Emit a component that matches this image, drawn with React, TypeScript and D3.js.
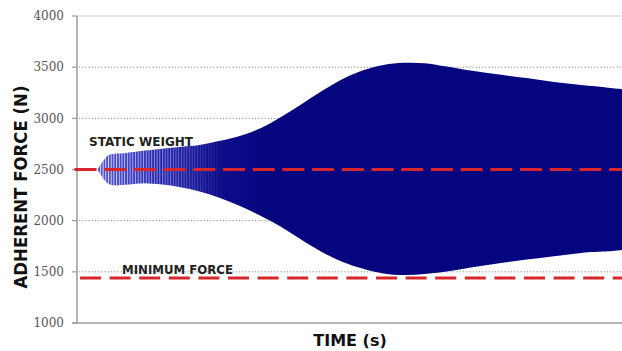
import React from 'react';
import * as d3 from 'd3';

// envelope of the oscillating adherent force
const timeS = [1.5, 1.8, 2.3, 2.8, 3.5, 5, 7.5, 9, 10.5, 12, 13.5, 15, 16.5, 18, 19.5, 21, 22.5, 24, 25.5, 27, 29, 31, 33, 35, 37, 39, 40];
const upperForce = [2500, 2560, 2640, 2655, 2660, 2685, 2720, 2740, 2780, 2830, 2905, 3015, 3140, 3270, 3385, 3470, 3522, 3543, 3538, 3508, 3464, 3428, 3393, 3354, 3325, 3300, 3286];
const lowerForce = [2500, 2440, 2360, 2345, 2350, 2365, 2330, 2285, 2222, 2142, 2045, 1938, 1810, 1692, 1597, 1530, 1484, 1468, 1478, 1500, 1545, 1585, 1620, 1652, 1685, 1700, 1713];

const yTicks = [1000, 1500, 2000, 2500, 3000, 3500, 4000];
const gridTicks = [1500, 2000, 3000, 3500];

const staticWeight = 2500;
const minimumForce = 1440;
const refLabels = ['STATIC WEIGHT', 'MINIMUM FORCE'];

const W = 622;
const H = 351;
const margin = { top: 16, right: 0, bottom: 28, left: 77 };

export default function App() {
  const x = d3.scaleLinear().domain([0, 40]).range([margin.left, W - margin.right]);
  const y = d3.scaleLinear().domain([1000, 4000]).range([H - margin.bottom, margin.top]);

  const pts = timeS.map((t, i) => ({ t, hi: upperForce[i], lo: lowerForce[i] }));
  const area = d3.area<{ t: number; hi: number; lo: number }>()
    .x(d => x(d.t))
    .y0(d => y(d.lo))
    .y1(d => y(d.hi))
    .curve(d3.curveCatmullRom.alpha(0.5));
  const path = area(pts) || '';

  const x0 = margin.left;
  const x1 = W - margin.right;
  const sans = '"DejaVu Sans", Verdana, sans-serif';

  return (
    <svg width={W} height={H} style={{ position: 'fixed', left: 0, top: 0, background: '#fff' }}>
      <defs>
        <linearGradient id="sigFill" gradientUnits="userSpaceOnUse" x1={x(1.5)} x2={x(14)} y1={0} y2={0}>
          <stop offset="0" stopColor="#5050d8" />
          <stop offset="0.3" stopColor="#2c2cb6" />
          <stop offset="0.7" stopColor="#0e0e8c" />
          <stop offset="1" stopColor="#05057f" />
        </linearGradient>
        <pattern id="stripes" patternUnits="userSpaceOnUse" width={2.7} height={10}>
          <rect x={0} y={0} width={1} height={10} fill="#fff" />
        </pattern>
        <linearGradient id="fadeG" gradientUnits="userSpaceOnUse" x1={x(1.5)} x2={x(11)} y1={0} y2={0}>
          <stop offset="0" stopColor="#fff" stopOpacity="0.9" />
          <stop offset="0.3" stopColor="#fff" stopOpacity="0.6" />
          <stop offset="1" stopColor="#fff" stopOpacity="0" />
        </linearGradient>
        <mask id="fadeM">
          <rect x={0} y={0} width={W} height={H} fill="url(#fadeG)" />
        </mask>
      </defs>

      {/* grid */}
      <line x1={x0} x2={x1} y1={y(4000)} y2={y(4000)} stroke="#d0d0d0" strokeWidth={1} />
      {gridTicks.map(v => (
        <line key={v} x1={x0 + 2} x2={x1} y1={y(v)} y2={y(v)} stroke="#8a8a8a" strokeWidth={1} strokeDasharray="1.2 2" />
      ))}

      {/* signal */}
      <path d={path} fill="url(#sigFill)" />
      <path d={path} fill="url(#stripes)" mask="url(#fadeM)" />

      {/* axes */}
      <line x1={x0} x2={x0} y1={y(4000)} y2={y(1000)} stroke="#9a9a9a" strokeWidth={1.5} />
      <line x1={x0 - 5} x2={x1} y1={y(1000)} y2={y(1000)} stroke="#9a9a9a" strokeWidth={1.5} />
      {yTicks.map(v => (
        <g key={v}>
          <line x1={x0 - 5} x2={x0} y1={y(v)} y2={y(v)} stroke="#9a9a9a" strokeWidth={1.2} />
          <text x={x0 - 13} y={y(v)} dy="0.35em" textAnchor="end" fontFamily='"DejaVu Serif", serif' fontSize={12} fill="#555">{v}</text>
        </g>
      ))}

      {/* reference lines */}
      <line x1={x0 - 2.5} x2={x1} y1={y(staticWeight)} y2={y(staticWeight)} stroke="#d7262c" strokeWidth={3} strokeDasharray="22 7.7" />
      <line x1={x0 + 3} x2={x1} y1={y(minimumForce)} y2={y(minimumForce)} stroke="#d7262c" strokeWidth={3} strokeDasharray="21 8.6" />
      <text x={89} y={146} fontFamily={sans} fontWeight="bold" fontSize={12} fill="#222" textLength={104} lengthAdjust="spacingAndGlyphs">{refLabels[0]}</text>
      <text x={122} y={274} fontFamily={sans} fontWeight="bold" fontSize={12} fill="#222" textLength={111} lengthAdjust="spacingAndGlyphs">{refLabels[1]}</text>

      {/* titles */}
      <text transform="translate(27,187) rotate(-90)" textAnchor="middle" fontFamily={sans} fontWeight="bold" fontSize={17} fill="#111" textLength={203} lengthAdjust="spacingAndGlyphs">ADHERENT FORCE (N)</text>
      <text x={350} y={346} textAnchor="middle" fontFamily={sans} fontWeight="bold" fontSize={16} fill="#111">TIME (s)</text>
    </svg>
  );
}
